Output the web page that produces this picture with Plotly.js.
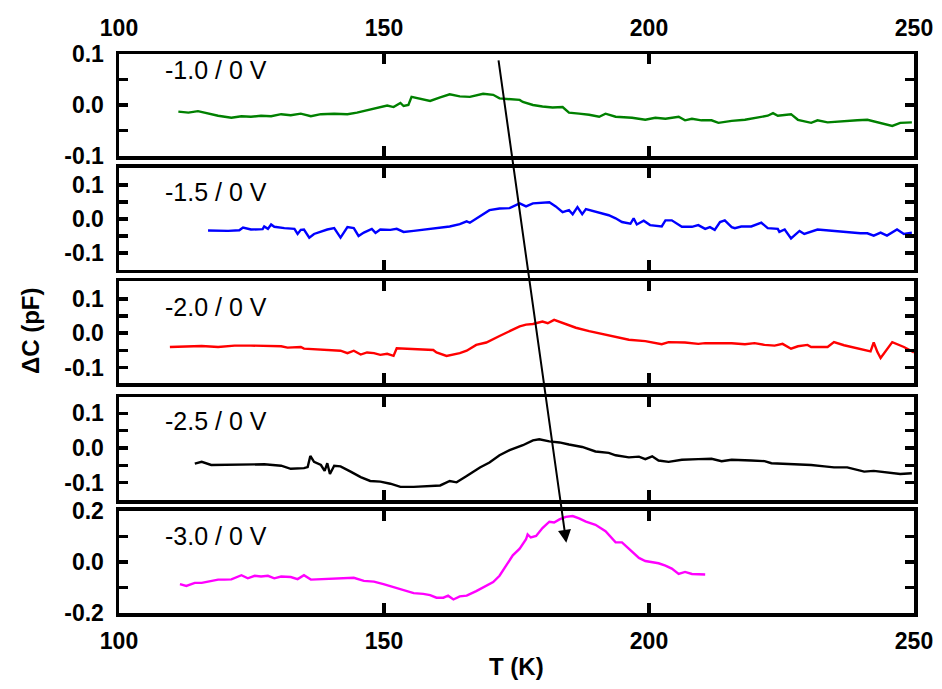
<!DOCTYPE html>
<html>
<head>
<meta charset="utf-8">
<script src="https://cdn.plot.ly/plotly-3.0.1.min.js"></script>
<style>html,body{margin:0;padding:0;background:#fff;}</style>
</head>
<body>
<div id="chart" style="width:942px;height:689px;"></div>
<script>
// Panel labels (bias pulse / reverse bias)
const panelLabels = ['-1.0 / 0 V', '-1.5 / 0 V', '-2.0 / 0 V', '-2.5 / 0 V', '-3.0 / 0 V'];
const colors = ['#008000', '#0000ff', '#ff0000', '#000000', '#ff00ff'];

// Temperature (K) and ΔC (pF) per panel
const T1 = [111.2,113.1,114.9,116.8,118.7,121.2,123.1,124.9,126.8,128.7,130.6,132.4,134.3,136.2,138.1,140.6,143.1,144.9,146.8,148.7,150.6,151.8,153.1,153.7,154.6,155.2,156.8,158.7,160.6,162.4,164.3,166.2,168.7,170.6,171.8,173.7,175.6,
  176.2,178.1,179.9,181.8,183.7,184.9,186.8,188.7,190.6,191.8,193.7,196.8,199.3,201.2,203.1,205.6,206.8,208.1,209.9,211.8,213.1,215.6,218.1,220.6,222.4,223.4,224.3,226.8,228.1,230.6,231.8,233.7,236.8,239.3,241.2,243.7,245.9,247.4,249.6];
const C1 = [-0.013,-0.015,-0.012,-0.017,-0.021,-0.025,-0.022,-0.023,-0.021,-0.022,-0.018,-0.020,-0.017,-0.022,-0.018,-0.017,-0.018,-0.015,-0.010,-0.006,-0.001,-0.004,0.004,-0.002,0.000,0.016,0.013,0.008,0.015,0.021,0.017,0.016,0.022,0.020,0.013,0.011,0.010,
  0.006,0.000,-0.003,-0.005,-0.004,-0.015,-0.017,-0.019,-0.023,-0.017,-0.023,-0.025,-0.029,-0.025,-0.027,-0.023,-0.030,-0.027,-0.030,-0.030,-0.035,-0.031,-0.029,-0.025,-0.021,-0.016,-0.021,-0.018,-0.029,-0.035,-0.030,-0.034,-0.031,-0.030,-0.029,-0.035,-0.041,-0.035,-0.034];

const T2 = [116.8,120.6,122.7,123.4,124.9,127.1,127.4,128.1,128.7,129.3,131.2,133.1,133.7,134.3,134.9,135.9,136.8,139.3,140.6,141.8,143.1,144.3,145.2,146.2,147.7,148.4,149.3,151.2,152.4,153.7,155.6,157.4,159.9,162.4,164.3,165.6,166.2,168.1,169.9,171.8,173.7,175.6,
  176.8,178.1,179.9,181.2,182.4,183.7,184.9,185.6,186.5,187.4,188.1,189.9,192.4,193.7,194.9,196.5,197.1,197.7,199.0,200.2,202.4,203.1,204.3,206.2,208.1,209.3,210.6,211.5,212.4,213.4,214.3,215.6,216.2,217.4,219.3,221.2,222.4,224.3,224.6,225.6,226.8,228.4,229.3,231.8,234.3,237.4,239.9,241.2,242.4,243.7,244.9,246.8,248.1,249.6];
const C2 = [-0.034,-0.035,-0.033,-0.025,-0.031,-0.030,-0.022,-0.029,-0.016,-0.023,-0.027,-0.029,-0.044,-0.032,-0.031,-0.055,-0.044,-0.031,-0.027,-0.055,-0.024,-0.027,-0.050,-0.040,-0.029,-0.041,-0.031,-0.032,-0.029,-0.038,-0.035,-0.031,-0.027,-0.022,-0.015,-0.007,-0.011,0.007,0.026,0.031,0.032,0.046,
  0.037,0.046,0.047,0.049,0.037,0.020,0.026,0.014,0.035,0.014,0.029,0.022,0.011,0.002,-0.009,-0.014,0.002,-0.016,-0.005,-0.018,-0.022,-0.004,-0.004,-0.023,-0.023,-0.018,-0.029,-0.024,-0.032,-0.009,-0.004,-0.024,-0.027,-0.022,-0.022,-0.011,-0.027,-0.029,-0.038,-0.031,-0.057,-0.035,-0.044,-0.031,-0.035,-0.040,-0.042,-0.042,-0.049,-0.040,-0.049,-0.031,-0.044,-0.040];

const T3 = [109.6,112.4,115.6,118.7,121.8,124.9,128.1,130.6,131.8,134.3,134.9,136.8,139.3,141.8,143.1,144.3,145.6,146.8,148.1,149.3,150.6,151.2,151.8,152.4,154.3,159.3,159.9,161.8,164.3,165.6,167.4,169.3,171.8,173.7,175.6,
  176.8,178.1,179.9,180.9,182.1,183.7,186.2,188.7,191.2,193.7,196.2,199.3,200.6,202.4,203.7,206.8,209.3,210.6,215.6,218.1,219.9,221.8,223.7,225.2,226.8,228.1,229.9,230.6,233.7,234.9,236.8,239.3,241.8,242.4,243.1,243.7,244.6,245.9,248.1,250.0];
const C3 = [-0.040,-0.038,-0.037,-0.040,-0.036,-0.036,-0.037,-0.038,-0.042,-0.040,-0.045,-0.047,-0.049,-0.051,-0.058,-0.051,-0.062,-0.056,-0.058,-0.063,-0.060,-0.064,-0.066,-0.044,-0.045,-0.049,-0.056,-0.066,-0.058,-0.051,-0.034,-0.027,-0.008,0.006,0.020,
  0.025,0.027,0.034,0.029,0.039,0.030,0.016,0.006,-0.003,-0.012,-0.019,-0.023,-0.027,-0.032,-0.026,-0.027,-0.031,-0.029,-0.029,-0.032,-0.029,-0.034,-0.036,-0.031,-0.045,-0.038,-0.034,-0.040,-0.040,-0.026,-0.035,-0.045,-0.053,-0.027,-0.055,-0.072,-0.054,-0.026,-0.040,-0.056];

const T4 = [114.3,115.6,117.4,119.9,122.4,124.9,127.4,130.6,132.4,134.9,135.6,136.1,136.8,138.1,138.8,139.3,139.8,140.6,141.8,143.7,145.6,147.4,149.3,151.2,153.1,155.6,158.1,160.6,162.4,163.7,165.6,168.1,169.9,171.8,173.7,175.6,
  176.2,178.1,179.3,181.2,183.1,184.9,187.4,189.9,192.4,193.7,196.2,198.1,199.3,200.6,201.8,203.7,206.2,209.3,211.8,213.7,215.6,219.3,221.8,223.1,225.6,228.1,230.6,233.1,234.9,237.4,239.3,240.6,242.4,244.9,247.4,249.6];
const C4 = [-0.045,-0.040,-0.049,-0.049,-0.047,-0.049,-0.047,-0.051,-0.060,-0.058,-0.055,-0.023,-0.040,-0.049,-0.066,-0.044,-0.075,-0.051,-0.053,-0.068,-0.084,-0.095,-0.097,-0.103,-0.112,-0.112,-0.110,-0.108,-0.095,-0.099,-0.081,-0.056,-0.042,-0.021,-0.006,0.005,
  0.008,0.022,0.025,0.019,0.016,0.010,0.003,-0.010,-0.014,-0.021,-0.027,-0.025,-0.032,-0.024,-0.036,-0.040,-0.034,-0.032,-0.031,-0.038,-0.034,-0.036,-0.038,-0.044,-0.045,-0.047,-0.049,-0.053,-0.056,-0.056,-0.064,-0.068,-0.066,-0.071,-0.075,-0.073];

const T5 = [111.5,112.7,114.3,115.6,116.8,118.7,119.9,121.2,123.1,124.3,125.6,126.8,128.1,129.3,130.6,132.4,133.7,134.9,136.2,138.1,140.6,144.3,146.2,148.1,149.9,151.8,153.7,155.6,157.4,158.7,159.9,161.2,162.1,163.1,164.3,165.6,167.4,169.3,170.6,171.8,173.1,174.3,175.6,
  176.8,177.1,177.7,178.7,179.9,181.2,182.1,183.1,184.3,185.6,186.8,188.1,189.9,191.8,193.7,194.9,196.2,198.1,199.3,200.6,201.8,203.1,204.3,205.6,206.8,208.1,210.6];
const C5 = [-0.087,-0.094,-0.082,-0.082,-0.077,-0.069,-0.069,-0.068,-0.052,-0.064,-0.054,-0.057,-0.054,-0.064,-0.057,-0.059,-0.067,-0.052,-0.069,-0.067,-0.067,-0.062,-0.074,-0.077,-0.087,-0.099,-0.112,-0.122,-0.125,-0.130,-0.140,-0.140,-0.132,-0.147,-0.135,-0.132,-0.114,-0.094,-0.079,-0.054,-0.011,0.026,0.052,
  0.089,0.108,0.096,0.102,0.133,0.158,0.155,0.167,0.177,0.180,0.171,0.158,0.146,0.121,0.077,0.077,0.052,0.016,0.004,-0.001,-0.005,-0.014,-0.026,-0.047,-0.039,-0.047,-0.049];

// Axis ticks
const xTicks = [100, 150, 200, 250];
const yTickVals = [
  [-0.1, -0.05, 0, 0.05, 0.1],
  [-0.1, -0.05, 0, 0.05, 0.1],
  [-0.1, -0.05, 0, 0.05, 0.1],
  [-0.1, -0.05, 0, 0.05, 0.1],
  [-0.2, -0.1, 0, 0.1, 0.2]
];
const yTickText = [
  ['-0.1', '', '0.0', '', '0.1'],
  ['-0.1', '', '0.0', '', '0.1'],
  ['-0.1', '', '0.0', '', '0.1'],
  ['-0.1', '', '0.0', '', '0.1'],
  ['-0.2', '', '0.0', '', '0.2']
];
const yRanges = [[-0.1, 0.1], [-0.15, 0.15], [-0.145, 0.152], [-0.15, 0.147], [-0.2, 0.2]];
// Arrow head position (T, ΔC in bottom panel)
const arrowHead = [184.4, 0.075];

const Ts = [T1, T2, T3, T4, T5];
const Cs = [C1, C2, C3, C4, C5];

const domains = [[0.8175, 1.0], [0.6136, 0.7961], [0.4114, 0.5939], [0.2021, 0.3864], [0.0, 0.1825]];

const FAM = 'Liberation Sans, Arial, sans-serif';
const tickFont = {family: FAM, size: 23, weight: 'bold', color: '#000'};
const common = {
  showline: true, linewidth: 3.5, linecolor: '#000', mirror: 'ticks',
  ticks: 'inside', tickwidth: 3.5, tickcolor: '#000',
  showgrid: false, zeroline: false, tickfont: tickFont, fixedrange: true
};

const data = [];
const layout = {
  width: 942, height: 689,
  margin: {l: 119, r: 28, t: 54, b: 76},
  paper_bgcolor: '#fff', plot_bgcolor: '#fff',
  showlegend: false,
  annotations: [],
  font: {family: FAM, color: '#000'}
};

const labelY = [0.84, 0.76, 0.745, 0.765, 0.755];

for (let i = 0; i < 5; i++) {
  const n = i + 1;
  const xa = n === 1 ? 'x' : 'x' + n;
  const ya = n === 1 ? 'y' : 'y' + n;
  data.push({
    x: Ts[i], y: Cs[i], type: 'scatter', mode: 'lines',
    xaxis: xa, yaxis: ya,
    line: {color: colors[i], width: 2.4}
  });
  const xkey = n === 1 ? 'xaxis' : 'xaxis' + n;
  const ykey = n === 1 ? 'yaxis' : 'yaxis' + n;
  layout[xkey] = Object.assign({}, common, {
    range: [100, 250], tickvals: xTicks, ticklen: 10,
    anchor: ya,
    side: n === 1 ? 'top' : 'bottom',
    showticklabels: (n === 1 || n === 5),
    ticklabelstandoff: 5
  });
  if (n !== 1) layout[xkey].matches = 'x';
  layout[ykey] = Object.assign({}, common, {
    domain: domains[i], range: yRanges[i], anchor: xa,
    tickvals: yTickVals[i], ticktext: yTickText[i], ticklen: 9,
    ticklabelstandoff: 7
  });
  layout.annotations.push({
    text: panelLabels[i], xref: 'paper', yref: ya + ' domain',
    x: 0.0553, y: labelY[i], xanchor: 'left', yanchor: 'middle', showarrow: false,
    font: {family: FAM, size: 25, color: '#000'}
  });
}

// Axis titles
layout.annotations.push({
  text: 'ΔC (pF)', xref: 'paper', yref: 'paper', x: -0.112, y: 0.506,
  textangle: -90, showarrow: false, xanchor: 'center', yanchor: 'middle',
  font: {family: FAM, size: 24, weight: 'bold', color: '#000'}
});
layout.annotations.push({
  text: 'T (K)', xref: 'paper', yref: 'paper', x: 0.5006, y: -0.0966,
  showarrow: false, xanchor: 'center', yanchor: 'middle',
  font: {family: FAM, size: 24, weight: 'bold', color: '#000'}
});
// Shift arrow
layout.annotations.push({
  text: '', xref: 'x5', yref: 'y5', x: arrowHead[0], y: arrowHead[1],
  showarrow: true, arrowhead: 2, arrowsize: 1.3, arrowwidth: 2, arrowcolor: '#000',
  ax: -68, ay: -484, standoff: 0
});

Plotly.newPlot('chart', data, layout, {displayModeBar: false, staticPlot: true});
</script>
</body>
</html>
